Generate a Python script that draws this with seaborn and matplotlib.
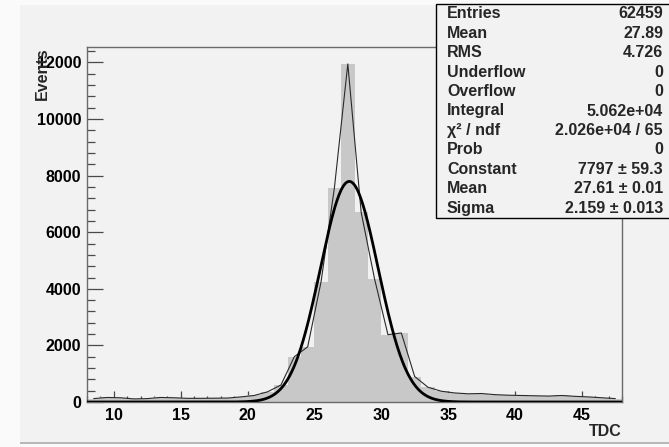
import numpy as np
import pandas as pd
import matplotlib
matplotlib.use("Agg")
import matplotlib.pyplot as plt
from matplotlib.patches import Rectangle
from matplotlib.ticker import MultipleLocator
import seaborn as sns

# TDC histogram: 1-unit bins from 8 to 48
tdc_lo, tdc_hi = 8, 48
counts = [120, 160, 150, 110, 120, 160, 150, 130, 130, 135,
          140, 180, 230, 360, 600, 1600, 1950, 4250, 7580, 11950,
          6700, 4350, 2380, 2440, 900, 520, 380, 320, 290, 300,
          260, 240, 230, 220, 210, 230, 200, 180, 150, 120]

# Gaussian fit parameters
fit_constant = 7797.0
fit_mean = 27.61
fit_sigma = 2.159

# Statistics panel
stat_names = ["Entries", "Mean", "RMS", "Underflow", "Overflow", "Integral",
              "χ² / ndf", "Prob", "Constant", "Mean", "Sigma"]
stat_values = ["62459", "27.89", "4.726", "0", "0", "5.062e+04",
               "2.026e+04 / 65", "0", "7797 ± 59.3", "27.61 ± 0.01",
               "2.159 ± 0.013"]

y_ticks = [0, 2000, 4000, 6000, 8000, 10000, 12000]
x_ticks = [10, 15, 20, 25, 30, 35, 40, 45]

edges = [float(e) for e in range(tdc_lo, tdc_hi + 1)]
centers = [(a + b) / 2 for a, b in zip(edges[:-1], edges[1:])]
hist_df = pd.DataFrame({"TDC": centers, "Events": counts})

xs = np.linspace(tdc_lo, tdc_hi, 800)
fit_df = pd.DataFrame({"TDC": xs,
                       "Events": fit_constant * np.exp(-0.5 * ((xs - fit_mean) / fit_sigma) ** 2)})

sns.set_style("ticks")
plt.rcParams["font.family"] = ["Liberation Sans", "DejaVu Sans"]
plt.rcParams["font.weight"] = "bold"

W, H = 669, 447
fig = plt.figure(figsize=(W / 100, H / 100), dpi=100, facecolor="#fafafa")

# canvas panel with a bevelled lower edge
fig.patches.append(Rectangle((20 / W, 1 - 442 / H), 1, (442 - 5) / H,
                             transform=fig.transFigure, facecolor="#f2f2f2",
                             edgecolor="none", zorder=-2))
fig.patches.append(Rectangle((20 / W, 1 - 444 / H), 1, 2 / H,
                             transform=fig.transFigure, facecolor="#b8b8b8",
                             edgecolor="none", zorder=-2))

ax = fig.add_axes([87 / W, 1 - 402 / H, (622 - 87) / W, (402 - 47) / H])
ax.set_zorder(1)
ax.set_facecolor("#f2f2f2")

sns.histplot(data=hist_df, x="TDC", weights="Events", bins=edges,
             color="#c8c8c8", alpha=1.0, edgecolor="none", linewidth=0,
             ax=ax, zorder=1)
sns.lineplot(data=hist_df, x="TDC", y="Events", color="#2a2a2a",
             linewidth=0.8, ax=ax, zorder=2)
sns.lineplot(data=fit_df, x="TDC", y="Events", color="black",
             linewidth=2.0, ax=ax, zorder=3)

ax.set_xlim(tdc_lo, tdc_hi)
ax.set_ylim(0, max(counts) * 1.05)

ax.set_xticks(x_ticks)
ax.set_xticklabels([str(t) for t in x_ticks])
ax.xaxis.set_minor_locator(MultipleLocator(1))
ax.set_yticks(y_ticks)
ax.set_yticklabels([str(t) for t in y_ticks])
ax.yaxis.set_minor_locator(MultipleLocator(400))

frame_col = "#6a6a6a"
for s in ax.spines.values():
    s.set_color(frame_col)
    s.set_linewidth(1.0)
ax.tick_params(axis="both", which="both", direction="in", colors="#4a4a4a",
               labelcolor="black", labelsize=11.5, width=0.9)
ax.tick_params(axis="y", which="major", length=11.5, pad=4)
ax.tick_params(axis="y", which="minor", length=6)
ax.tick_params(axis="x", which="major", length=8, pad=4)
ax.tick_params(axis="x", which="minor", length=4)
for lab in ax.get_xticklabels() + ax.get_yticklabels():
    lab.set_fontweight("bold")

ax.set_xlabel("TDC", loc="right", fontsize=11.5, fontweight="bold")
ax.xaxis.set_label_coords(1.0, -0.062)
ax.set_ylabel("Events", loc="top", fontsize=11.5, fontweight="bold")
ax.yaxis.set_label_coords(-0.069, 1.0)

# statistics box, drawn over the frame
bx0, by0, by1 = 436, 4, 218
stat_ax = fig.add_axes([0, 0, 1, 1])
stat_ax.set_zorder(5)
stat_ax.set_axis_off()
stat_ax.set_xlim(0, W)
stat_ax.set_ylim(H, 0)
stat_ax.add_patch(Rectangle((bx0, by0), W + 5 - bx0, by1 - by0,
                            facecolor="#f2f2f2", edgecolor="black",
                            linewidth=1.0))
row_h = (by1 - by0) / len(stat_names)
for i, (name, val) in enumerate(zip(stat_names, stat_values)):
    yc = by0 + row_h * (i + 0.5)
    stat_ax.text(447, yc, name, ha="left", va="center", fontsize=11.5,
                 fontweight="bold")
    stat_ax.text(663, yc, val, ha="right", va="center", fontsize=11.5,
                 fontweight="bold")

fig.savefig("out.png", dpi=100, facecolor=fig.get_facecolor())
